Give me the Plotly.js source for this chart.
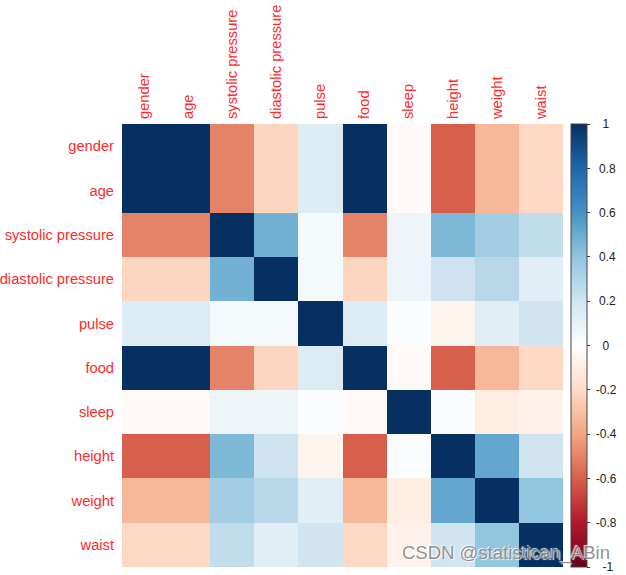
<!DOCTYPE html>
<html>
<head>
<meta charset="utf-8">
<script src="https://cdn.plot.ly/plotly-3.0.1.min.js"></script>
<style>html,body{margin:0;padding:0;background:#fff;}#chart{width:626px;height:575px;}</style>
</head>
<body>
<div id="chart"></div>
<script>
const variables = ["gender","age","systolic pressure","diastolic pressure","pulse","food","sleep","height","weight","waist"];

const rowGender    = [ 1.00,  1.00, -0.50, -0.22,  0.15,  1.00, -0.03, -0.60, -0.33, -0.21];
const rowAge       = [ 1.00,  1.00, -0.50, -0.22,  0.15,  1.00, -0.03, -0.60, -0.33, -0.21];
const rowSystolic  = [-0.50, -0.50,  1.00,  0.48,  0.05, -0.50,  0.08,  0.45,  0.35,  0.25];
const rowDiastolic = [-0.22, -0.22,  0.48,  1.00,  0.05, -0.22,  0.08,  0.21,  0.28,  0.13];
const rowPulse     = [ 0.15,  0.15,  0.05,  0.05,  1.00,  0.15,  0.02, -0.06,  0.13,  0.20];
const rowFood      = [ 1.00,  1.00, -0.50, -0.22,  0.15,  1.00, -0.03, -0.60, -0.33, -0.21];
const rowSleep     = [-0.03, -0.03,  0.08,  0.08,  0.02, -0.03,  1.00,  0.02, -0.10, -0.07];
const rowHeight    = [-0.60, -0.60,  0.45,  0.21, -0.06, -0.60,  0.02,  1.00,  0.52,  0.20];
const rowWeight    = [-0.33, -0.33,  0.35,  0.28,  0.13, -0.33, -0.10,  0.52,  1.00,  0.40];
const rowWaist     = [-0.21, -0.21,  0.25,  0.13,  0.20, -0.21, -0.07,  0.20,  0.40,  1.00];

const colorTickVals = [1,0.8,0.6,0.4,0.2,0,-0.2,-0.4,-0.6,-0.8,-1];
const colorTickText = ["1","0.8","0.6","0.4","0.2","0","-0.2","-0.4","-0.6","-0.8","-1"];

const rdbu = ["#67001F","#B2182B","#D6604D","#F4A582","#FDDBC7","#FFFFFF","#D1E5F0","#92C5DE","#4393C3","#2166AC","#053061"];
const colorscale = rdbu.map((c,i)=>[i/(rdbu.length-1), c]);

const z = [rowGender,rowAge,rowSystolic,rowDiastolic,rowPulse,rowFood,rowSleep,rowHeight,rowWeight,rowWaist];

const fontFam = '"Liberation Sans", Arial, sans-serif';

// centre the colorbar labels (the reference centres them) by padding with no-break spaces
function estWidth(s){ let w=0; for(const ch of s){ w += (ch==='.')?3.3:(ch==='-')?4:6.7; } return w; }
const paddedTickText = colorTickText.map(s => '\u00a0'.repeat(Math.max(0, Math.round((21 - estWidth(s))/6.6)) + 1) + s);

const trace = {
  type: 'heatmap',
  x: variables,
  y: variables,
  z: z,
  zmin: -1, zmax: 1,
  colorscale: colorscale,
  hoverinfo: 'skip',
  colorbar: {
    thickness: 16,
    len: 1, lenmode: 'fraction',
    x: 1.018, xanchor: 'left', xref: 'paper',
    y: 0.5, yanchor: 'middle',
    outlinewidth: 1, outlinecolor: '#444',
    tickvals: colorTickVals, ticktext: paddedTickText,
    ticks: 'outside', ticklen: 3, tickcolor: '#333',
    tickfont: {family: fontFam, size: 12, color: '#222'},
    ypad: 0, xpad: 0
  }
};

const layout = {
  width: 626, height: 575,
  margin: {l: 122, r: 63, t: 124, b: 8},
  paper_bgcolor: '#fff', plot_bgcolor: '#fff',
  xaxis: {
    side: 'top', tickangle: -90, type: 'category',
    tickfont: {family: fontFam, size: 14.7, color: '#FF2A2A'},
    showgrid: false, zeroline: false, ticks: '', ticklabelstandoff: 4
  },
  yaxis: {
    type: 'category', autorange: 'reversed',
    tickfont: {family: fontFam, size: 14.7, color: '#FF2A2A'},
    showgrid: false, zeroline: false, ticks: '', ticklabelstandoff: 7
  },
  annotations: [{
    text: 'CSDN @statistican_ABin', xref: 'paper', yref: 'paper',
    x: 1.111, y: 0.032, xanchor: 'right', yanchor: 'middle', showarrow: false,
    font: {family: fontFam, size: 18.5, color: 'rgba(125,125,125,0.85)',
           shadow: '1px 1px 1px #fff, -1px -1px 1px #fff'}
  }]
};

Plotly.newPlot('chart', [trace], layout, {displayModeBar: false, staticPlot: true});
</script>
</body>
</html>
